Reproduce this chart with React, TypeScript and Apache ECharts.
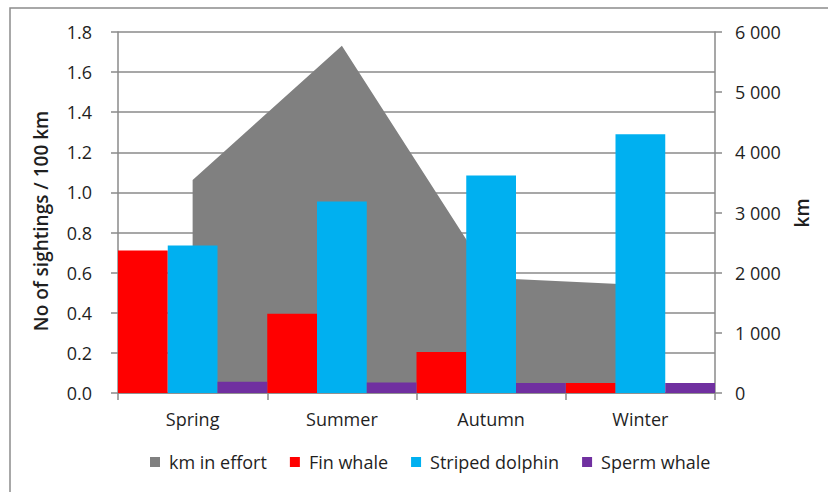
import React, { useEffect, useRef } from "react";
import * as echarts from "echarts";

const categories = ["Spring", "Summer", "Autumn", "Winter"];
const kmEffort = [3540, 5770, 1910, 1795];
const finWhale = [0.71, 0.395, 0.205, 0.05];
const stripedDolphin = [0.735, 0.955, 1.085, 1.29];
const spermWhale = [0.056, 0.052, 0.05, 0.05];

const leftAxisTitle = "No of sightings / 100 km";
const rightAxisTitle = "km";

const FONT = "Open Sans";
const TXT = "#1f1f1f";
const AX = "#8a8a8a";
const FS = 18;

function fmtKm(v: number) {
  if (v === 0) return "0";
  const s = String(Math.round(v));
  return s.replace(/\B(?=(\d{3})+(?!\d))/g, " ");
}

export default function App() {
  const ref = useRef<HTMLDivElement>(null);
  useEffect(() => {
    const chart = echarts.init(ref.current!, null, { renderer: "svg" });
    chart.setOption({
      animation: false,
      textStyle: { fontFamily: FONT },
      graphic: [
        {
          type: "rect",
          shape: { x: 10, y: 8, width: 830, height: 500 },
          style: { fill: "none", stroke: "#8c8c8c", lineWidth: 1.5 },
          silent: true,
        },
        {
          type: "text",
          x: 41,
          y: 221,
          rotation: Math.PI / 2,
          style: {
            text: leftAxisTitle,
            fontFamily: FONT,
            fontSize: 19,
            fontWeight: 600,
            fill: TXT,
            align: "center",
            verticalAlign: "middle",
          },
          silent: true,
        },
        {
          type: "text",
          x: 802,
          y: 213,
          rotation: Math.PI / 2,
          style: {
            text: rightAxisTitle,
            fontFamily: FONT,
            fontSize: 19,
            fontWeight: 600,
            fill: TXT,
            align: "center",
            verticalAlign: "middle",
          },
          silent: true,
        },
      ],
      grid: { left: 118, right: 113, top: 32, bottom: 99 },
      legend: {
        bottom: 16,
        left: 145,
        icon: "rect",
        itemWidth: 10,
        itemHeight: 10,
        itemGap: 23,
        textStyle: { fontFamily: FONT, fontSize: FS, color: TXT, padding: [0, 0, 0, 4] },
        data: ["km in effort", "Fin whale", "Striped dolphin", "Sperm whale"],
      },
      xAxis: {
        type: "category",
        data: categories,
        boundaryGap: true,
        axisLine: { lineStyle: { color: AX, width: 1.5 } },
        axisTick: { show: true, length: 7, lineStyle: { color: AX, width: 1.5 } },
        axisLabel: { fontFamily: FONT, fontSize: FS, color: TXT, margin: 17 },
      },
      yAxis: [
        {
          type: "value",
          min: 0,
          max: 1.8,
          interval: 0.2,
          axisLine: { show: true, lineStyle: { color: AX, width: 1.5 } },
          axisTick: { show: true, length: 7, lineStyle: { color: AX, width: 1.5 } },
          axisLabel: {
            fontFamily: FONT,
            fontSize: FS,
            color: TXT,
            margin: 26,
            formatter: (v: number) => v.toFixed(1),
          },
          splitLine: { show: true, lineStyle: { color: AX, width: 1.5 } },
        },
        {
          type: "value",
          min: 0,
          max: 6000,
          interval: 1000,
          position: "right",
          axisLine: { show: true, lineStyle: { color: AX, width: 1.5 } },
          axisTick: { show: true, length: 7, lineStyle: { color: AX, width: 1.5 } },
          axisLabel: {
            fontFamily: FONT,
            fontSize: FS,
            color: TXT,
            margin: 20,
            formatter: fmtKm,
          },
          splitLine: { show: false },
        },
      ],
      series: [
        {
          name: "km in effort",
          type: "line",
          yAxisIndex: 1,
          data: kmEffort,
          showSymbol: false,
          symbol: "none",
          z: 1,
          lineStyle: { width: 0, color: "#808080" },
          itemStyle: { color: "#808080" },
          areaStyle: { color: "#808080", opacity: 1 },
        },
        {
          name: "Fin whale",
          type: "bar",
          data: finWhale,
          barGap: "0%",
          barCategoryGap: "0%",
          z: 3,
          itemStyle: { color: "#ff0000" },
        },
        {
          name: "Striped dolphin",
          type: "bar",
          data: stripedDolphin,
          barGap: "0%",
          barCategoryGap: "0%",
          z: 3,
          itemStyle: { color: "#00b0f0" },
        },
        {
          name: "Sperm whale",
          type: "bar",
          data: spermWhale,
          barGap: "0%",
          barCategoryGap: "0%",
          z: 3,
          itemStyle: { color: "#7030a0" },
        },
      ],
    });
    return () => chart.dispose();
  }, []);
  return (
    <div
      ref={ref}
      style={{ position: "fixed", left: 0, top: 0, width: 828, height: 492, background: "#fff" }}
    />
  );
}
